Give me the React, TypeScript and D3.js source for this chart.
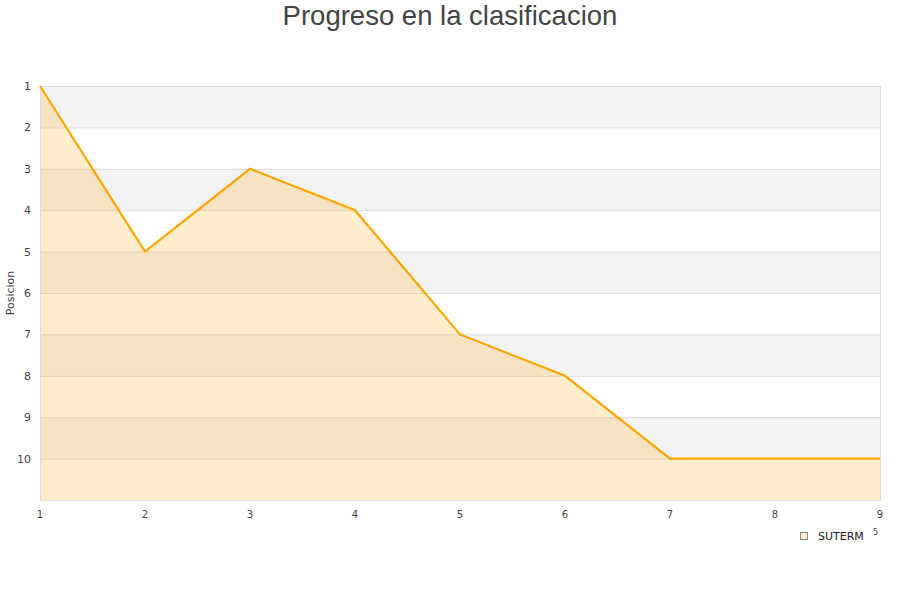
import * as d3 from "d3";
import React, { useEffect, useRef } from "react";

const jornadas = [1, 2, 3, 4, 5, 6, 7, 8, 9];
const posiciones = [1, 5, 3, 4, 7, 8, 10, 10, 10];
const yTicks = [1, 2, 3, 4, 5, 6, 7, 8, 9, 10];
const seriesName = "SUTERM";

const App: React.FC = () => {
  const ref = useRef<SVGSVGElement>(null);

  useEffect(() => {
    const width = 900;
    const height = 600;
    const margin = { top: 86, right: 20, bottom: 100, left: 40 };
    const svg = d3.select(ref.current);
    svg.selectAll("*").remove();

    const x = d3
      .scaleLinear()
      .domain([1, 9])
      .range([margin.left, width - margin.right]);
    const y = d3
      .scaleLinear()
      .domain([1, 11])
      .range([margin.top, height - margin.bottom]);

    svg
      .append("rect")
      .attr("width", width)
      .attr("height", height)
      .attr("fill", "#fff");

    // alternating bands
    const bands = d3.range(1, 11);
    svg
      .append("g")
      .selectAll("rect")
      .data(bands)
      .join("rect")
      .attr("x", margin.left)
      .attr("width", x(9) - x(1))
      .attr("y", (d) => y(d))
      .attr("height", (d) => y(d + 1) - y(d))
      .attr("fill", (d, i) => (i % 2 === 0 ? "#f3f3f3" : "#ffffff"));

    // grid lines
    svg
      .append("g")
      .selectAll("line")
      .data(yTicks)
      .join("line")
      .attr("x1", margin.left)
      .attr("x2", x(9))
      .attr("y1", (d) => y(d) + 0.5)
      .attr("y2", (d) => y(d) + 0.5)
      .attr("stroke", "#dddddd");

    const pts = jornadas.map((j, i) => [j, posiciones[i]] as [number, number]);

    const area = d3
      .area<[number, number]>()
      .x((d) => x(d[0]))
      .y0(y(11))
      .y1((d) => y(d[1]));

    svg
      .append("path")
      .attr("d", area(pts))
      .attr("fill", "#ffa500")
      .attr("fill-opacity", 0.2);

    // plot border
    svg
      .append("rect")
      .attr("x", margin.left + 0.5)
      .attr("y", margin.top + 0.5)
      .attr("width", x(9) - x(1))
      .attr("height", y(11) - y(1))
      .attr("fill", "none")
      .attr("stroke", "#dddddd");

    const line = d3
      .line<[number, number]>()
      .x((d) => x(d[0]))
      .y((d) => y(d[1]));

    svg
      .append("path")
      .attr("d", line(pts))
      .attr("fill", "none")
      .attr("stroke", "#ffa500")
      .attr("stroke-width", 2.2);

    // x tick labels
    svg
      .append("g")
      .selectAll("text")
      .data(jornadas)
      .join("text")
      .attr("x", (d) => x(d))
      .attr("y", y(11) + 18)
      .attr("text-anchor", "middle")
      .attr("font-family", "DejaVu Sans")
      .attr("font-size", "10px")
      .attr("fill", "#444")
      .text((d) => d);

    // y tick labels
    svg
      .append("g")
      .selectAll("text")
      .data(yTicks)
      .join("text")
      .attr("x", margin.left - 9)
      .attr("y", (d) => y(d) + 4)
      .attr("text-anchor", "end")
      .attr("font-family", "DejaVu Sans")
      .attr("font-size", "11px")
      .attr("fill", "#444")
      .text((d) => d);

    svg
      .append("text")
      .attr("transform", `translate(14, ${(y(1) + y(11)) / 2}) rotate(-90)`)
      .attr("text-anchor", "middle")
      .attr("font-family", "DejaVu Sans")
      .attr("font-size", "11px")
      .attr("fill", "#444")
      .text("Posicion");

    svg
      .append("text")
      .attr("x", width / 2)
      .attr("y", 25)
      .attr("text-anchor", "middle")
      .attr("font-family", "Liberation Sans")
      .attr("font-size", "27.5px")
      .attr("fill", "#444")
      .text("Progreso en la clasificacion");

    // legend
    const lg = svg.append("g").attr("transform", "translate(800, 532)");
    lg.append("rect")
      .attr("x", 0.5)
      .attr("y", 0.5)
      .attr("width", 7)
      .attr("height", 7)
      .attr("fill", "#ffeecc")
      .attr("stroke", "#888");
    lg.append("text")
      .attr("x", 18)
      .attr("y", 8)
      .attr("font-family", "DejaVu Sans")
      .attr("font-size", "11px")
      .attr("fill", "#222")
      .text(seriesName);
    lg.append("text")
      .attr("x", 73)
      .attr("y", 3)
      .attr("font-family", "DejaVu Sans")
      .attr("font-size", "8px")
      .attr("fill", "#444")
      .text("5");
  }, []);

  return <svg ref={ref} width={900} height={600} style={{ display: "block", position: "absolute", left: 0, top: 0 }} />;
};

export default App;
